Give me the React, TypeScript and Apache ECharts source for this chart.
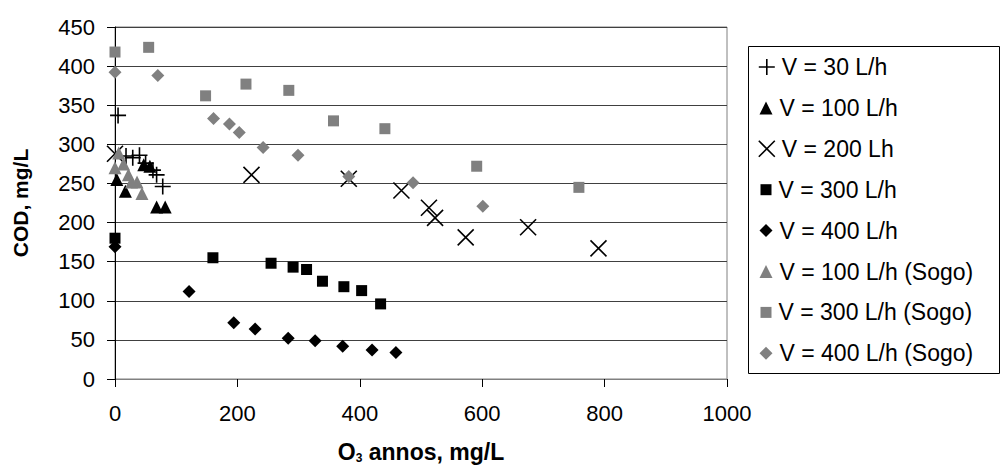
import React, { useEffect, useRef } from "react";
import * as echarts from "echarts";

const FONT = '"Liberation Sans", Arial, sans-serif';

const seriesNames = [
  "V = 30 L/h",
  "V = 100 L/h",
  "V = 200 Lh",
  "V = 300 L/h",
  "V = 400 L/h",
  "V = 100 L/h (Sogo)",
  "V = 300 L/h (Sogo)",
  "V = 400 L/h (Sogo)",
];

const v30: number[][] = [[5, 337], [18, 285], [29, 283], [40, 286], [50, 276], [62, 267], [68, 261], [78, 246]];
const v100: number[][] = [[3, 255], [17, 240], [47, 274], [57, 272], [68, 220], [82, 220]];
const v200: number[][] = [[0, 288], [223, 261], [382, 256], [468, 241], [513, 219], [523, 206], [573, 181], [675, 194], [790, 167]];
const v300: number[][] = [[0, 180], [160, 155], [255, 148], [291, 143], [313, 140], [339, 125], [374, 118], [403, 113], [434, 96]];
const v400: number[][] = [[0, 169], [121, 112], [194, 72], [229, 64], [283, 52], [327, 49], [372, 42], [420, 37], [459, 34]];
const v100s: number[][] = [[6, 289], [0, 270], [14, 275], [22, 261], [27, 252], [36, 252], [44, 237]];
const v300s: number[][] = [[0, 418], [55, 424], [148, 362], [214, 377], [284, 369], [357, 330], [441, 320], [591, 272], [758, 245]];
const v400s: number[][] = [[0, 392], [70, 388], [161, 333], [187, 326], [203, 315], [242, 296], [299, 286], [382, 259], [487, 251], [601, 221]];

const seriesData = [v30, v100, v200, v300, v400, v100s, v300s, v400s];

const xTicks = { min: 0, max: 1000, interval: 200 };
const yTicks = { min: 0, max: 450, interval: 50 };

const PLUS = "path://M5,0 L5,10 M0,5 L10,5";
const CROSS = "path://M0,0 L10,10 M10,0 L0,10";

const symbols = [PLUS, "triangle", CROSS, "rect", "diamond", "triangle", "rect", "diamond"];
const symbolSizes = [16, 13, 16, 11, 13, 13, 11, 13];
const colors = ["#000", "#000", "#000", "#000", "#000", "#808080", "#808080", "#808080"];
const stroked = [true, false, true, false, false, false, false, false];

export default function App() {
  const ref = useRef<HTMLDivElement>(null);
  useEffect(() => {
    if (!ref.current) return;
    const chart = echarts.init(ref.current, undefined, { renderer: "svg" });
    const style = (i: number) =>
      stroked[i]
        ? { color: "transparent", borderColor: colors[i], borderWidth: 1.6, opacity: 1 }
        : { color: colors[i], borderWidth: 0, opacity: 1 };
    const series = seriesNames.map((name, i) => ({
      name,
      type: "scatter",
      data: seriesData[i],
      symbol: symbols[i],
      symbolSize: symbolSizes[i],
      itemStyle: style(i),
      emphasis: { disabled: true },
    }));
    const legends = seriesNames.map((name, i) => {
      const sz = symbolSizes[i];
      const rowH = 24;
      return {
        left: 766 - sz / 2,
        top: 67 + i * 40.9 - rowH / 2,
        padding: 0,
        itemWidth: sz,
        itemHeight: sz,
        selectedMode: false,
        data: [{ name, icon: symbols[i], itemStyle: style(i) }],
        textStyle: { fontFamily: FONT, fontSize: 23, color: "#000", lineHeight: rowH, padding: [0, 0, 0, 2] },
      };
    });
    chart.setOption({
      animation: false,
      backgroundColor: "#fff",
      grid: {
        left: 115,
        top: 27,
        width: 612,
        height: 352,
        outerBoundsMode: "none",
        containLabel: false,
        show: true,
        borderColor: "#808080",
        borderWidth: 1,
        backgroundColor: "transparent",
      },
      xAxis: {
        type: "value",
        min: xTicks.min,
        max: xTicks.max,
        interval: xTicks.interval,
        name: "{a|O}{b|3}{a| annos, mg/L}",
        nameLocation: "middle",
        nameGap: 61,
        nameTextStyle: {
          rich: {
            a: { fontFamily: FONT, fontSize: 23, fontWeight: "bold", color: "#000", lineHeight: 24, verticalAlign: "middle" },
            b: { fontFamily: FONT, fontSize: 12, fontWeight: "bold", color: "#000", lineHeight: 12, verticalAlign: "bottom" },
          },
        },
        axisLine: { show: true, onZero: false, lineStyle: { color: "#808080", width: 1 } },
        axisTick: { show: true, inside: false, length: 8, lineStyle: { color: "#000" } },
        axisLabel: { fontFamily: FONT, fontSize: 22, color: "#000", margin: 23, formatter: (v: number) => String(v) },
        splitLine: { show: false },
      },
      yAxis: {
        type: "value",
        min: yTicks.min,
        max: yTicks.max,
        interval: yTicks.interval,
        name: "COD, mg/L",
        nameLocation: "middle",
        nameGap: 84,
        nameTextStyle: { fontFamily: FONT, fontSize: 21, fontWeight: "bold", color: "#000" },
        axisLine: { show: true, onZero: false, lineStyle: { color: "#000", width: 1 } },
        axisTick: { show: true, inside: false, length: 8, lineStyle: { color: "#000" } },
        axisLabel: { fontFamily: FONT, fontSize: 22, color: "#000", margin: 20 },
        splitLine: { show: true, lineStyle: { color: "#404040", width: 1 } },
      },
      legend: legends,
      graphic: [
        {
          type: "rect",
          left: 748,
          top: 46,
          z: 1,
          shape: { width: 251, height: 327 },
          style: { fill: "#fff", stroke: "#000", lineWidth: 1 },
        },
      ],
      series,
    });
    return () => chart.dispose();
  }, []);
  return <div ref={ref} style={{ position: "fixed", left: 0, top: 0, width: 1002, height: 468 }} />;
}
